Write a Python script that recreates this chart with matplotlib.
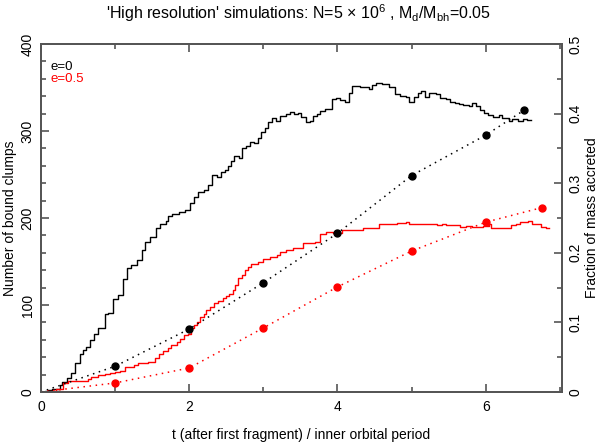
import matplotlib
matplotlib.use("Agg")
import matplotlib.pyplot as plt
import numpy as np

plt.rcParams['font.family'] = ['Liberation Sans', 'DejaVu Sans']
plt.rcParams['mathtext.default'] = 'regular'

# Number of bound clumps (step histograms): times where each step begins, and counts
t_e0 = [0.0, 0.05, 0.10, 0.15, 0.20, 0.25, 0.28, 0.35, 0.41, 0.46, 0.52, 0.565, 0.61, 0.66,
        0.715, 0.77, 0.86, 0.91, 0.966, 1.04, 1.10, 1.16, 1.22, 1.29, 1.36, 1.41, 1.47,
        1.55, 1.61, 1.68, 1.72, 1.77, 1.86, 1.94, 2.01, 2.07, 2.12, 2.20, 2.255, 2.31,
        2.37, 2.43, 2.48, 2.52, 2.57, 2.61, 2.67, 2.71, 2.77, 2.82, 2.88, 2.93, 2.97,
        3.02, 3.06, 3.12, 3.17, 3.22, 3.30, 3.36, 3.41, 3.47, 3.51, 3.57, 3.63, 3.67,
        3.72, 3.76, 3.83, 3.92, 3.98, 4.04, 4.10, 4.15, 4.20, 4.31, 4.42, 4.47, 4.52,
        4.60, 4.69, 4.77, 4.85, 4.92, 4.97, 5.03, 5.09, 5.13, 5.18, 5.24, 5.33, 5.39,
        5.46, 5.52, 5.58, 5.64, 5.70, 5.77, 5.82, 5.87, 5.92, 5.98, 6.03, 6.10, 6.18,
        6.22, 6.28, 6.31, 6.36, 6.43, 6.50, 6.56]
n_e0 = [0, 1, 2, 3, 4, 8, 11.5, 16, 22, 33, 43.6, 48, 52, 59.6,
        66.7, 74, 90, 91, 107, 111, 130, 142, 146, 151.7, 163, 172.8, 177.8,
        188, 193.6, 196.7, 202, 205, 207, 209, 216.7, 224.5, 230, 232, 238, 249,
        247, 252.4, 255, 260, 265.5, 271.6, 269, 280.8, 283, 287.7, 286, 292, 299,
        303.8, 310.7, 314.6, 311.5, 317.6, 319, 322, 320, 321, 316, 310.7, 312, 317.6,
        320, 323.3, 325, 336.8, 337.6, 335.6, 333.7, 343.3, 352, 351, 348, 353, 355.5,
        353.6, 351, 342.5, 340, 338.7, 333.7, 338.7, 343.3, 346, 338.7, 344, 342.5, 337.5,
        336.4, 333.7, 332, 331, 330, 328.7, 332, 328.7, 324, 321, 318.4, 316.4, 318.4,
        315.3, 314.6, 312, 313.5, 312, 313.5, 312.6]

t_e05 = [0.0, 0.10, 0.20, 0.30, 0.37, 0.49, 0.64, 0.68, 0.77, 0.86, 0.93, 1.0, 1.07,
         1.13, 1.25, 1.31, 1.44, 1.54, 1.59, 1.65, 1.72, 1.76, 1.84, 1.88, 1.93, 1.98,
         2.02, 2.06, 2.11, 2.15, 2.20, 2.23, 2.28, 2.33, 2.39, 2.45, 2.50, 2.54, 2.59,
         2.62, 2.66, 2.71, 2.75, 2.79, 2.84, 2.93, 3.00, 3.09, 3.18, 3.22, 3.31, 3.40,
         3.54, 3.60, 3.70, 3.77, 3.84, 3.94, 4.06, 4.15, 4.27, 4.34, 4.45, 4.56, 4.67,
         4.76, 4.81, 4.92, 4.97, 5.05, 5.35, 5.41, 5.46, 5.57, 5.66, 5.73, 5.82, 5.91,
         5.96, 6.04, 6.07, 6.16, 6.31, 6.34, 6.41, 6.47, 6.53, 6.57, 6.62, 6.68, 6.75, 6.81]
n_e05 = [0, 1, 3, 10, 13, 13, 14.5, 17.6, 20, 21, 22.3, 23, 24,
         29, 31, 33.7, 35, 39.5, 43.6, 47, 50.6, 54, 57.8, 61.4, 65.5, 67,
         73, 77, 80.8, 85.8, 89.7, 94, 98, 102, 104.6, 107.6, 110, 113, 117,
         123, 130.7, 134.5, 140.7, 144, 146.7, 149.7, 152.4, 155, 158, 161, 163.7, 165,
         170.7, 171.7, 172.8, 182, 184, 183, 186, 186.6, 186, 188, 189, 193, 193.6,
         193, 194.6, 195.8, 193.6, 192.7, 192, 193.6, 192, 192, 190, 191, 190, 190,
         191, 193, 189, 188, 188, 191.8, 193.6, 195.8, 195, 196.7, 193.6, 193, 190, 189]

# Fraction of mass accreted (right axis)
t_acc_e0 = [0, 1, 2, 3, 4, 5, 6, 6.52]
f_acc_e0 = [0.0, 0.037, 0.0905, 0.157, 0.228, 0.311, 0.369, 0.405]
t_acc_e05 = [0, 1, 2, 3, 4, 5, 6, 6.76]
f_acc_e05 = [0.0, 0.013, 0.0345, 0.092, 0.151, 0.2025, 0.244, 0.265]

fig = plt.figure(figsize=(5.98, 4.43), dpi=100)
ax = fig.add_axes([41/598, 1-392/443, (562-41)/598, (392-44)/443])
ax2 = ax.twinx()

spine_col = '#555555'
ax.step(t_e0 + [t_e0[-1] + 0.05], n_e0 + [n_e0[-1]], where='post', color='black', lw=1.0)
ax.step(t_e05 + [t_e05[-1] + 0.05], n_e05 + [n_e05[-1]], where='post', color='#ff0000', lw=1.0)

ax2.plot(t_acc_e0, f_acc_e0, color='black', ls=(0, (1, 3)), lw=1.1,
         marker='o', ms=5, markevery=list(range(1, len(t_acc_e0))))
ax2.plot(t_acc_e05, f_acc_e05, color='#ff0000', ls=(0, (1, 3)), lw=1.1,
         marker='o', ms=5, markevery=list(range(1, len(t_acc_e05))))

ax.set_xlim(0, 7.03)
ax.set_ylim(0, 400)
ax2.set_ylim(0, 0.5)

ax.set_xticks([0, 2, 4, 6])
ax.set_xticks([1, 3, 5, 7], minor=True)
ax.set_yticks([0, 100, 200, 300, 400])
ax.set_yticks(np.arange(0, 401, 20), minor=True)
ax2.set_yticks([0, 0.1, 0.2, 0.3, 0.4, 0.5])
ax2.set_yticks(np.arange(0, 0.51, 0.05), minor=True)
ax2.set_yticklabels(['0', '0.1', '0.2', '0.3', '0.4', '0.5'])

for a in (ax, ax2):
    for s in a.spines.values():
        s.set_color(spine_col)
        s.set_linewidth(1.3)
ax.tick_params(which='both', direction='in', color=spine_col, width=1.2, top=True,
               labelsize=10, pad=6)
ax.tick_params(which='major', length=6)
ax.tick_params(which='minor', length=3.5)
ax.tick_params(axis='y', which='both', right=False)
ax.tick_params(axis='y', labelrotation=90, pad=4.5)
for lab in ax.get_yticklabels():
    lab.set_va('center')
ax2.tick_params(which='both', direction='in', color=spine_col, width=1.2,
                labelsize=10, pad=4.5, labelrotation=90)
ax2.tick_params(which='major', length=6)
ax2.tick_params(which='minor', length=3.5)
for lab in ax2.get_yticklabels():
    lab.set_va('center')

ax.set_xlabel('t (after first fragment) / inner orbital period', fontsize=10, labelpad=10)
ax.set_ylabel('Number of bound clumps', fontsize=10, labelpad=2.5)
ax2.set_ylabel('Fraction of mass accreted', fontsize=10, labelpad=2)

fig.text(0.5, 1-13/443, "'High resolution' simulations: N=5 $\\times$ 10$^6$ , M$_d$/M$_{bh}$=0.05",
         ha='center', va='center', fontsize=11.5)

ax.text(0.018, 0.935, 'e=0', transform=ax.transAxes, color='black', fontsize=9.5, va='center')
ax.text(0.018, 0.898, 'e=0.5', transform=ax.transAxes, color='#ff0000', fontsize=9.5, va='center')

fig.savefig('out.png', dpi=100)
